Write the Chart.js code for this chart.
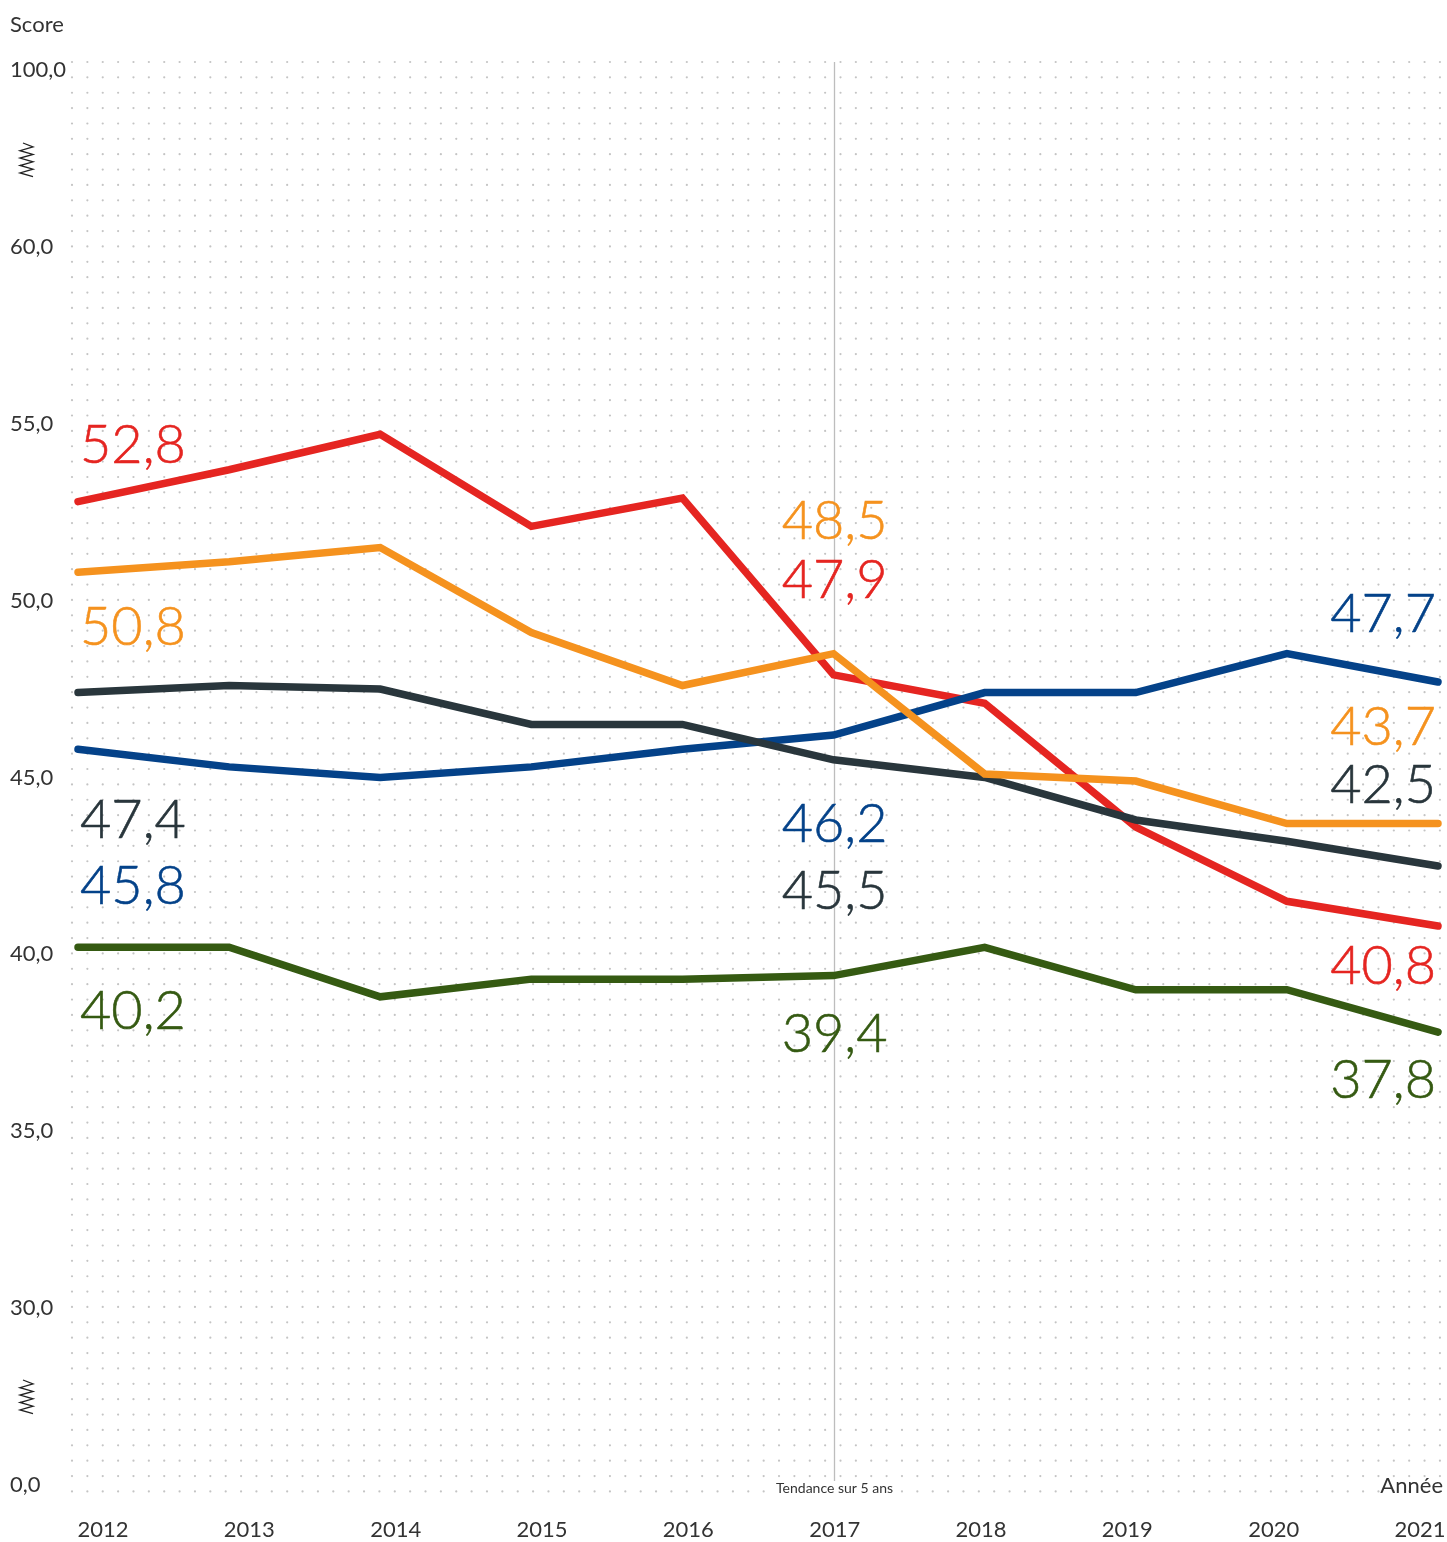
<!DOCTYPE html>
<html><head><meta charset="utf-8">
<script src="https://cdn.jsdelivr.net/npm/chart.js@4.4.1/dist/chart.umd.min.js"></script>
<style>html,body{margin:0;padding:0;background:#fff}#wrap{width:1447px;height:1542px;position:relative}</style>
</head><body><div id="wrap"><canvas id="c" width="1447" height="1542"></canvas></div>
<script>
// ---------- DATA ----------
const years = ['2012','2013','2014','2015','2016','2017','2018','2019','2020','2021'];
const redValues    = [52.8, 53.7, 54.7, 52.1, 52.9, 47.9, 47.1, 43.6, 41.5, 40.8];
const orangeValues = [50.8, 51.1, 51.5, 49.1, 47.6, 48.5, 45.1, 44.9, 43.7, 43.7];
const grayValues   = [47.4, 47.6, 47.5, 46.5, 46.5, 45.5, 45.0, 43.8, 43.2, 42.5];
const blueValues   = [45.8, 45.3, 45.0, 45.3, 45.8, 46.2, 47.4, 47.4, 48.5, 47.7];
const greenValues  = [40.2, 40.2, 38.8, 39.3, 39.3, 39.4, 40.2, 39.0, 39.0, 37.8];
// broken axis: 25 stands for 0,0 and 65 stands for 100,0
const yTickValues = [25, 30, 35, 40, 45, 50, 55, 60, 65];
const yTickLabels = ['0,0', '30,0', '35,0', '40,0', '45,0', '50,0', '55,0', '60,0', '100,0'];
const labelIndexes = [0, 5, 9];
const trendIndex = 5;

// ---------- STYLE ----------
const FONT = 'Lato, "Open Sans", sans-serif';
const series = [
  {key:'orange', data: orangeValues, color:'#f5921e', dy:[54, -134, -97]},
  {key:'gray',   data: grayValues,   color:'#29363c', dy:[126, 130, -82]},
  {key:'blue',   data: blueValues,   color:'#044289', dy:[136, 88, -69]},
  {key:'red',    data: redValues,    color:'#e52521', dy:[-58, -96, 39]},
  {key:'green',  data: greenValues,  color:'#355a12', dy:[63, 57, 47]}
];

const fmt = v => v.toFixed(1).replace('.', ',');

const decor = {
  id: 'decor',
  beforeDraw(chart) {
    const ctx = chart.ctx;
    ctx.save();
    ctx.fillStyle = '#fff';
    ctx.fillRect(0, 0, chart.width, chart.height);
    // dotted background
    ctx.fillStyle = '#c4c4c4';
    const step = 15.37;
    for (let y = 62; y <= 1492; y += step) {
      for (let x = 72; x <= 1446; x += step) {
        ctx.beginPath();
        ctx.arc(x, y, 1.1, 0, Math.PI * 2);
        ctx.fill();
      }
    }
    // axis break symbols
    ctx.strokeStyle = '#222';
    ctx.lineWidth = 1.3;
    [143, 1380].forEach(top => {
      ctx.beginPath();
      ctx.moveTo(23, top);
      ctx.lineTo(33, top + 4);
      let left = true;
      for (let k = 1; k <= 8; k++) {
        ctx.lineTo(left ? 20 : 33, top + 4 + k * 3.7);
        left = !left;
      }
      ctx.stroke();
    });
    ctx.restore();
  },
  beforeDatasetsDraw(chart) {
    const ctx = chart.ctx;
    const x = Math.round(chart.scales.x.getPixelForValue(trendIndex)) + 0.5;
    ctx.save();
    ctx.strokeStyle = '#bdbdbd';
    ctx.lineWidth = 1.3;
    ctx.beginPath();
    ctx.moveTo(x, 62);
    ctx.lineTo(x, 1481);
    ctx.stroke();
    ctx.restore();
  },
  afterDatasetsDraw(chart) {
    const ctx = chart.ctx;
    const xs = chart.scales.x, ys = chart.scales.y;
    ctx.save();
    ctx.font = '300 54px ' + FONT;
    ctx.textBaseline = 'alphabetic';
    series.forEach(s => {
      labelIndexes.forEach((idx, j) => {
        const v = s.data[idx];
        const px = xs.getPixelForValue(idx);
        const py = ys.getPixelForValue(v) + s.dy[j] + 19;
        ctx.fillStyle = s.color;
        ctx.strokeStyle = s.color;
        ctx.lineWidth = 0.6;
        let align = j === 0 ? 'left' : (j === 1 ? 'center' : 'right');
        let tx = j === 0 ? px + 2 : (j === 1 ? px + 1 : px - 2);
        ctx.textAlign = align;
        ctx.fillText(fmt(v), tx, py);
        ctx.strokeText(fmt(v), tx, py);
      });
    });
    // small annotations
    const tx = xs.getPixelForValue(trendIndex);
    ctx.font = '14px ' + FONT;
    const t = 'Tendance sur 5 ans';
    const w = ctx.measureText(t).width;
    ctx.fillStyle = '#fff';
    ctx.fillRect(tx - w / 2 - 2, 1481, w + 4, 15);
    ctx.fillStyle = '#333';
    ctx.textAlign = 'center';
    ctx.fillText(t, tx + 1, 1493);
    ctx.font = '22px ' + FONT;
    ctx.textAlign = 'right';
    ctx.fillText('Année', 1443, 1493);
    ctx.restore();
  }
};

const datasets = series.map(s => ({
  label: s.key,
  data: s.data,
  borderColor: s.color,
  backgroundColor: s.color,
  borderWidth: 7.5,
  borderCapStyle: 'round',
  borderJoinStyle: 'miter',
  pointRadius: 0,
  pointHoverRadius: 0,
  tension: 0,
  fill: false,
  clip: false
}));

new Chart(document.getElementById('c'), {
  type: 'line',
  data: { labels: years, datasets },
  options: {
    responsive: false,
    animation: false,
    devicePixelRatio: 1,
    events: [],
    layout: { padding: { left: 10, right: 9, top: 0, bottom: 0 } },
    plugins: {
      legend: { display: false },
      tooltip: { enabled: false },
      title: {
        display: true, text: 'Score', align: 'start', color: '#333',
        font: { family: FONT, size: 22, weight: 'normal' },
        padding: { top: 12, bottom: 31.6 }
      }
    },
    scales: {
      x: { type: 'category', display: false, offset: false },
      xl: {
        type: 'linear', position: 'bottom',
        min: -0.1708, max: 9.123,
        grid: { display: false, drawTicks: false }, border: { display: false },
        afterBuildTicks: s => { s.ticks = years.map((y, i) => ({ value: i })); },
        afterFit: s => { s.height = 57; s.paddingLeft = 0; s.paddingRight = 0; },
        ticks: {
          autoSkip: false, maxRotation: 0, padding: 32, color: '#333',
          font: { family: FONT, size: 22 },
          callback: (v) => years[v]
        }
      },
      y: {
        type: 'linear', min: 25, max: 65,
        grid: { display: false, drawTicks: false }, border: { display: false },
        afterBuildTicks: s => { s.ticks = yTickValues.map(v => ({ value: v })); },
        afterFit: s => { s.width = 68; s.paddingTop = 0; s.paddingBottom = 0; },
        ticks: {
          crossAlign: 'far', color: '#333',
          font: { family: FONT, size: 22 },
          callback: (v) => yTickLabels[yTickValues.indexOf(v)]
        }
      }
    }
  },
  plugins: [decor]
});
</script>
</body></html>
